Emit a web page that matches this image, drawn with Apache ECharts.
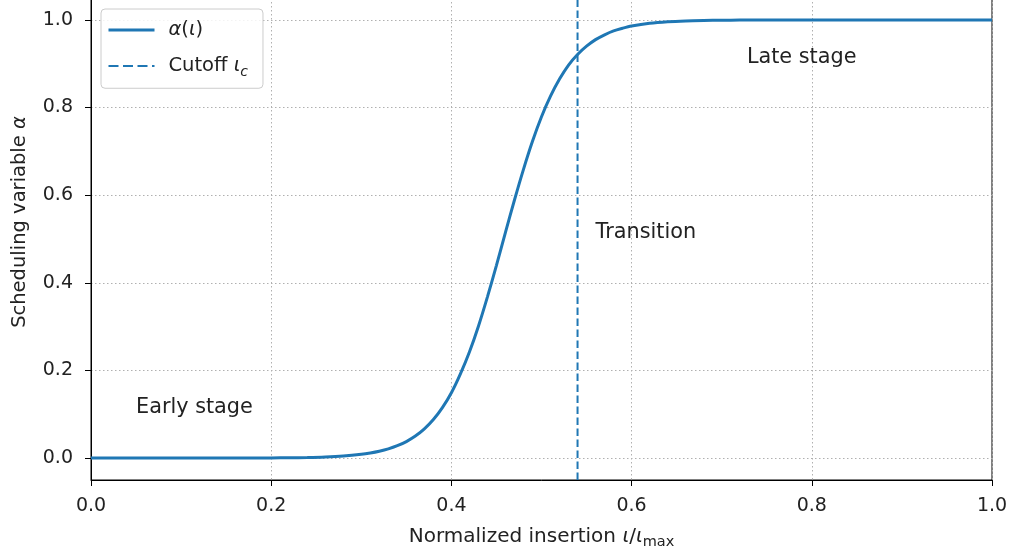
<!DOCTYPE html>
<html>
<head>
<meta charset="utf-8">
<script src="https://cdn.jsdelivr.net/npm/echarts@6/dist/echarts.min.js"></script>
<style>html,body{margin:0;padding:0;background:#fff;}#c{width:1011px;height:553px;}</style>
</head>
<body>
<div id="c"></div>
<script>
// Data
const xs = [0.00,0.02,0.04,0.06,0.08,0.10,0.12,0.14,0.16,0.18,0.20,0.22,0.24,0.26,0.28,
  0.30,0.31,0.32,0.33,0.34,0.35,0.36,0.37,0.38,0.39,0.40,0.41,0.42,0.43,0.44,0.45,0.46,
  0.47,0.48,0.49,0.50,0.51,0.52,0.53,0.54,0.55,0.56,0.57,0.58,0.59,0.60,0.62,0.64,0.66,
  0.68,0.70,0.72,0.74,0.76,0.80,0.85,0.90,0.95,1.00];
const alpha = [0.0000,0.0000,0.0000,0.0000,0.0000,0.0000,0.0000,0.0000,0.0001,0.0002,0.0004,0.0008,0.0014,0.0026,0.0048,
  0.0087,0.0117,0.0157,0.0210,0.0282,0.0377,0.0502,0.0666,0.0879,0.115,0.149,0.192,0.242,0.301,0.368,0.440,0.515,
  0.589,0.659,0.723,0.779,0.826,0.865,0.897,0.921,0.940,0.955,0.966,0.975,0.981,0.986,0.9923,0.9958,0.9977,
  0.9987,0.9993,0.9996,0.9998,0.9999,1.0000,1.0000,1.0000,1.0000,1.0000];
const cutoffX = 0.54;
const cutoffY = [-0.05, 1.05];
const xTickStep = 0.2;
const yTicks = [0.0, 0.2, 0.4, 0.6, 0.8, 1.0];
const noteTexts = ['Early stage', 'Transition', 'Late stage'];
const noteX = [0.05, 0.56, 0.728];
const noteY = [0.10, 0.50, 0.90];

const FONT = 'DejaVu Sans';
const BLUE = '#1f77b4';
const GRID = '#b0b0b0';

function richSet(fs, sfs) {
  return {
    n: {fontFamily: FONT, fontSize: fs, color: '#222', lineHeight: fs + 7, verticalAlign: 'middle'},
    i: {fontFamily: FONT, fontSize: fs, color: '#222', fontStyle: 'italic', lineHeight: fs + 7, verticalAlign: 'middle'},
    si: {fontFamily: FONT, fontSize: sfs, color: '#222', fontStyle: 'italic', lineHeight: sfs + 3, verticalAlign: 'bottom'},
    s: {fontFamily: FONT, fontSize: sfs, color: '#222', lineHeight: sfs + 3, verticalAlign: 'bottom'}
  };
}

const chart = echarts.init(document.getElementById('c'), null, {renderer: 'canvas'});
chart.setOption({
  animation: false,
  backgroundColor: '#fff',
  grid: {left: 91, right: 19, top: -2, bottom: 73, outerBoundsMode: 'none', containLabel: false,
    show: true, borderColor: '#000', borderWidth: 1, backgroundColor: 'transparent'},
  legend: {
    orient: 'vertical', left: 101, top: 9,
    data: [
      {name: 'alpha', lineStyle: {width: 3, type: 'solid', color: BLUE}},
      {name: 'cutoff', lineStyle: {width: 2, type: [10, 4.5], color: BLUE}}
    ],
    itemWidth: 46, itemHeight: 14, itemGap: 16,
    padding: [11, 15, 9, 6],
    backgroundColor: 'rgba(255,255,255,0.85)',
    borderColor: '#cccccc', borderWidth: 1, borderRadius: 4,
    itemStyle: {color: 'rgba(0,0,0,0)', borderWidth: 0, opacity: 0},
    lineStyle: {width: 'inherit', type: 'inherit'},
    formatter: function (name) {
      return name === 'alpha' ? '{i|α}{n|(}{i|ι}{n|)}' : '{n|Cutoff }{i|ι}{si|c}';
    },
    textStyle: {fontFamily: FONT, fontSize: 19.5, color: '#222', padding: [0, 0, 0, 9], rich: richSet(19.5, 14)}
  },
  xAxis: {
    type: 'value', min: 0, max: 1, interval: xTickStep,
    name: '{n|Normalized insertion }{i|ι}{n|/}{i|ι}{s|max}',
    nameLocation: 'middle', nameGap: 43,
    nameTextStyle: {rich: richSet(20, 14.5)},
    axisLine: {show: true, onZero: false, lineStyle: {color: '#000', width: 1}},
    axisTick: {show: true, inside: false, length: 6, lineStyle: {color: '#000', width: 1}},
    axisLabel: {margin: 17, fontFamily: FONT, fontSize: 19, color: '#222', formatter: v => v.toFixed(1)},
    splitLine: {show: true, lineStyle: {color: GRID, width: 1, type: [1.5, 2.5]}}
  },
  yAxis: {
    type: 'value', min: -0.05, max: 1.05,
    name: '{n|Scheduling variable }{i|α}',
    nameLocation: 'middle', nameGap: 58, nameRotate: 90,
    nameTextStyle: {rich: richSet(19.5, 13), padding: [0, 0, 0, 34]},
    axisLine: {show: true, onZero: false, lineStyle: {color: '#000', width: 1}},
    axisTick: {show: true, inside: false, length: 6, customValues: yTicks, lineStyle: {color: '#000', width: 1}},
    axisLabel: {margin: 18, fontFamily: FONT, fontSize: 19, color: '#222', customValues: yTicks, formatter: v => v.toFixed(1)},
    splitLine: {show: true, lineStyle: {color: GRID, width: 1, type: [1.5, 2.5]}}
  },
  series: [
    {
      name: 'alpha', type: 'line', symbol: 'none', smooth: 0.3,
      data: xs.map((x, k) => [x, alpha[k]]),
      lineStyle: {color: BLUE, width: 3}, itemStyle: {color: BLUE}, z: 3
    },
    {
      name: 'cutoff', type: 'line', symbol: 'none',
      data: cutoffY.map(y => [cutoffX, y]),
      lineStyle: {color: BLUE, width: 2, type: [7.5, 3.5]}, itemStyle: {color: BLUE}, z: 2
    },
    {
      name: 'notes', type: 'scatter', symbolSize: 0.1, silent: true,
      itemStyle: {opacity: 0},
      data: noteX.map((x, k) => ({value: [x, noteY[k]], label: {formatter: noteTexts[k]}})),
      label: {show: true, position: [0, 0], align: 'left', verticalAlign: 'bottom', offset: [0, 4],
        fontFamily: FONT, fontSize: 20.8, color: '#222', opacity: 1},
      z: 4
    }
  ]
});
</script>
</body>
</html>
